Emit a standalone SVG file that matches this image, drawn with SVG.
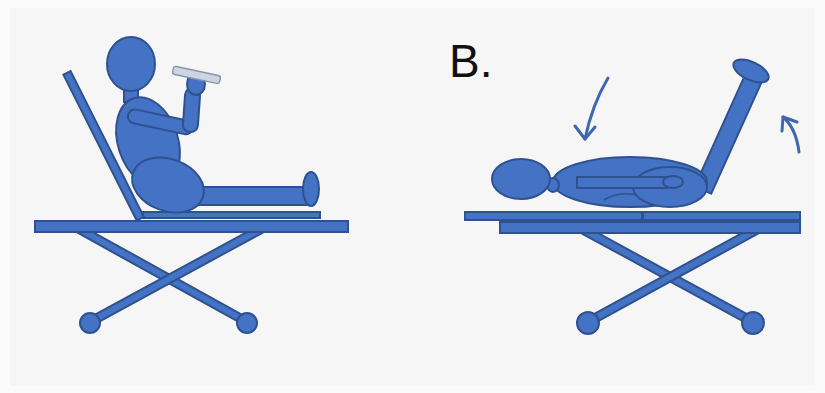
<svg xmlns="http://www.w3.org/2000/svg" width="825" height="393" viewBox="0 0 825 393">
  <style>
    .body { fill: #4472c4; stroke: #2f528f; stroke-width: 2; }
    .legout { stroke: #2f528f; stroke-width: 10; stroke-linecap: round; fill: none; }
    .legin { stroke: #4472c4; stroke-width: 6; stroke-linecap: round; fill: none; }
    .arrow { stroke: #3f67ad; stroke-width: 3; fill: none; stroke-linecap: round; stroke-linejoin: round; }
    .label { font-family: "Liberation Sans", Arial, sans-serif; font-size: 46px; fill: #111; }
  </style>
  <rect width="825" height="393" fill="#fbfbfb"/>
  <rect x="10" y="8" width="805" height="378" fill="#f6f6f6"/>

  <!-- Stretcher A: sitting up -->
  <g id="stretcher-a">
    <line class="legout" x1="79" y1="229" x2="247" y2="322"/>
    <line class="legin" x1="79" y1="229" x2="247" y2="322"/>
    <line class="legout" x1="261" y1="229" x2="90" y2="322"/>
    <line class="legin" x1="261" y1="229" x2="90" y2="322"/>
    <circle class="body" cx="90" cy="323" r="10"/>
    <circle class="body" cx="247" cy="323" r="10"/>
    <rect class="body" x="143" y="212" width="177" height="6"/>
    <rect class="body" x="35" y="221" width="313" height="11"/>
    <!-- backrest -->
    <rect class="body" x="0" y="-4" width="163" height="8" transform="translate(67,73) rotate(63.3)"/>
  </g>

  <!-- Patient A -->
  <g id="patient-a">
    <rect class="body" x="124" y="86" width="14" height="16"/>
    <ellipse class="body" cx="148" cy="142" rx="30" ry="46" transform="rotate(-18 148 142)"/>
    <rect class="body" x="0" y="-7" width="66" height="14" rx="7" transform="translate(128,115) rotate(12)"/>
    <rect class="body" x="184" y="88" width="15" height="44" rx="7" transform="rotate(4 191 110)"/>
    <ellipse class="body" cx="196" cy="84" rx="9" ry="11"/>
    <ellipse class="body" cx="131" cy="64" rx="24" ry="27"/>
    <rect class="body" x="195" y="187" width="115" height="18"/>
    <ellipse class="body" cx="168" cy="185" rx="37" ry="26" transform="rotate(20 168 185)"/>
    <ellipse class="body" cx="311" cy="189" rx="8" ry="17"/>
    <!-- bottle -->
    <rect x="0" y="-4" width="48" height="8" rx="2.5" fill="#cfd5e0" stroke="#8796b3" stroke-width="1.5" transform="translate(173,70) rotate(12)"/>
  </g>

  <text class="label" x="449" y="77">B.</text>

  <!-- Stretcher B: lying flat -->
  <g id="stretcher-b">
    <line class="legout" x1="582" y1="229" x2="753" y2="322"/>
    <line class="legin" x1="582" y1="229" x2="753" y2="322"/>
    <line class="legout" x1="758" y1="229" x2="588" y2="322"/>
    <line class="legin" x1="758" y1="229" x2="588" y2="322"/>
    <circle class="body" cx="588" cy="323" r="11"/>
    <circle class="body" cx="753" cy="323" r="11"/>
    <rect class="body" x="500" y="222" width="300" height="11"/>
    <rect class="body" x="465" y="212" width="177" height="8"/>
    <rect class="body" x="643" y="212" width="157" height="8"/>
  </g>

  <!-- Patient B: legs raised -->
  <g id="patient-b">
    <rect class="body" x="0" y="-9" width="124" height="18" transform="translate(703,190) rotate(-65.7)"/>
    <ellipse class="body" cx="751" cy="71" rx="19" ry="9" transform="rotate(25 751 71)"/>
    <ellipse class="body" cx="630" cy="182" rx="77" ry="25"/>
    <path d="M604,200 Q620,190 640,196" fill="none" stroke="#2f528f" stroke-width="1.5"/>
    <ellipse class="body" cx="670" cy="187" rx="37" ry="20"/>
    <rect class="body" x="577" y="177" width="90" height="11"/>
    <ellipse class="body" cx="673" cy="182" rx="10" ry="6"/>
    <ellipse class="body" cx="553" cy="185" rx="6" ry="7"/>
    <ellipse class="body" cx="521" cy="179" rx="29" ry="20"/>
  </g>

  <!-- Movement arrows -->
  <g id="arrows">
    <path class="arrow" d="M608,78 Q592,105 585,139"/>
    <path class="arrow" d="M575,126 L585,139 L595,127"/>
    <path class="arrow" d="M799,152 Q796,128 783,117"/>
    <path class="arrow" d="M782,131 L783,117 L797,122"/>
  </g>
</svg>
